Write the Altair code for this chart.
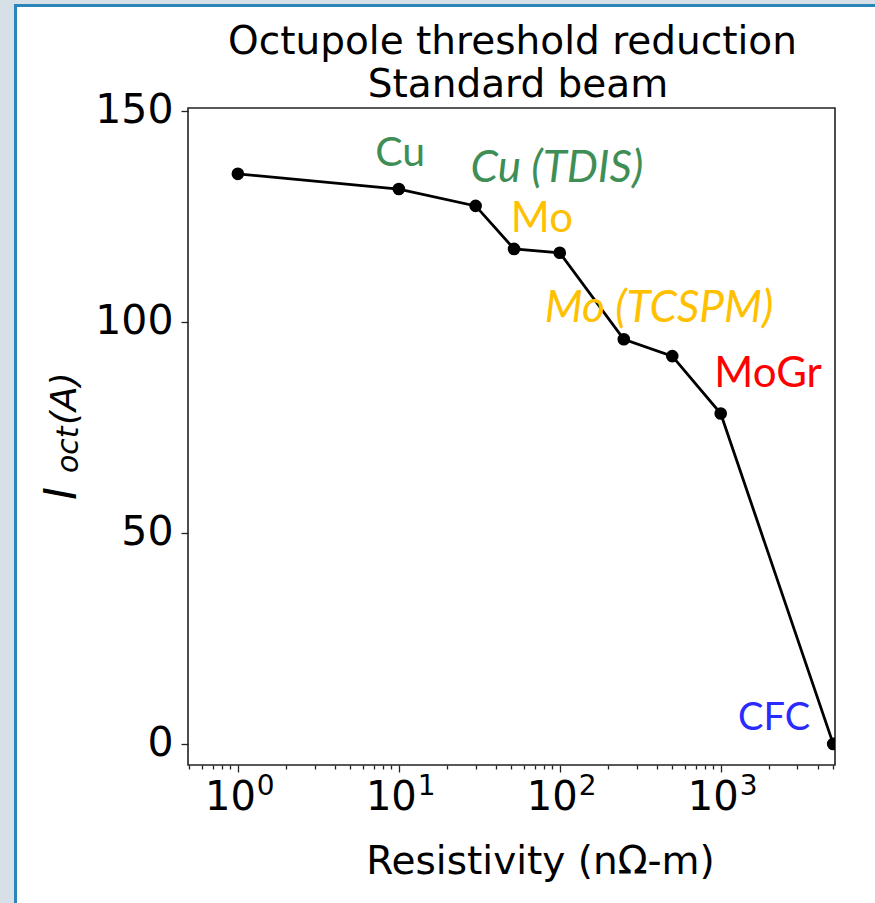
import altair as alt
import pandas as pd

# ---- data ----
resistivity = [1, 10, 30, 52, 100, 250, 500, 1000, 5000]          # nOhm-m
i_oct = [135.1, 131.5, 127.5, 117.3, 116.4, 95.9, 91.9, 78.3, 0.0]  # A

label_text = ["Cu", "Cu (TDIS)", "Mo", "Mo (TCSPM)", "MoGr", "CFC"]
label_x = [10.2, 96, 77.5, 414, 1968, 2144]
label_y = [137.0, 133.2, 121.3, 100.0, 84.5, 3.4]
label_italic = [False, True, False, True, False, False]

x_major = [1, 10, 100, 1000]
x_major_exp = ["0", "1", "2", "3"]
x_minor = [0.5, 0.6, 0.7, 0.8, 0.9, 2, 3, 4, 5, 6, 7, 8, 9,
           20, 30, 40, 50, 60, 70, 80, 90, 200, 300, 400, 500, 600, 700, 800, 900,
           2000, 3000, 4000, 5000]
y_ticks = [0, 50, 100, 150]

title_lines = ["Octupole threshold reduction", "Standard beam"]
x_title = "Resistivity (nΩ-m)"

# ---- styles ----
label_colors = {"Cu": "#3E8E55", "Cu (TDIS)": "#3E8E55", "Mo": "#FFC000",
                "Mo (TCSPM)": "#FFC000", "MoGr": "#FF0000", "CFC": "#2A2AFF"}
label_sizes = {"Cu": 41, "Cu (TDIS)": 44, "Mo": 42, "Mo (TCSPM)": 44,
               "MoGr": 42, "CFC": 38}

W, H = 647, 657
PAD_L, PAD_T, PAD_R, PAD_B = 188, 108, 40, 138

df = pd.DataFrame({"res": resistivity, "ioct": i_oct})
lab = pd.DataFrame({"text": label_text, "x": label_x, "y": label_y,
                    "italic": label_italic})
ticks_df = pd.DataFrame({"v": x_major, "exp": x_major_exp})
one = pd.DataFrame({"k": [0]})

x_scale = alt.Scale(type="log", domain=[0.49, 5130], nice=False)
y_scale = alt.Scale(domain=[-5, 150.7], nice=False, zero=False)

major_test = " || ".join(f"datum.value == {v}" for v in x_major)

x_axis = alt.Axis(
    values=sorted(x_major + x_minor), labels=False,
    tickSize={"condition": {"test": major_test, "value": 7}, "value": 4},
    tickColor="#222222", tickWidth=1.3, domain=False, grid=False,
    title=x_title, titleFont="DejaVu Sans", titleFontSize=39,
    titleFontWeight="normal", titleColor="black", titleX=352, titleY=108,
    titleAlign="center", titleBaseline="alphabetic", titleAnchor="start",
)
y_axis = alt.Axis(
    values=y_ticks, tickSize=7, tickColor="#222222", tickWidth=1.3,
    domain=False, grid=False, labelFont="DejaVu Sans", labelFontSize=41,
    labelColor="black", labelPadding=8, labelOverlap=False, labelFlush=False,
)

base = alt.Chart(df)
line = base.mark_line(color="black", strokeWidth=2.8, clip=True).encode(
    x=alt.X("res:Q", scale=x_scale, axis=x_axis),
    y=alt.Y("ioct:Q", scale=y_scale, axis=y_axis, title=None),
)
points = base.mark_point(filled=True, color="black", size=160, opacity=1,
                         clip=True).encode(
    x=alt.X("res:Q", scale=x_scale),
    y=alt.Y("ioct:Q", scale=y_scale),
)

# ---- x tick labels 10^n (drawn on the x scale) ----
tick_ten = alt.Chart(ticks_df).mark_text(
    text="10", font="DejaVu Sans", fontSize=40, align="right",
    baseline="alphabetic", dx=18, color="black"
).encode(x=alt.X("v:Q", scale=x_scale, title=x_title), y=alt.value(702))
tick_exp = alt.Chart(ticks_df).mark_text(
    font="DejaVu Sans", fontSize=28, align="left",
    baseline="alphabetic", dx=19, color="black"
).encode(x=alt.X("v:Q", scale=x_scale, title=x_title), y=alt.value(687),
         text="exp:N")

# ---- coloured annotations ----
def ann(t):
    row = lab[lab.text == t]
    italic = bool(row.italic.iloc[0])
    return alt.Chart(row).mark_text(
        font="Lato", fontSize=label_sizes[t], align="center",
        baseline="alphabetic", color=label_colors[t],
        fontStyle="italic" if italic else "normal"
    ).encode(
        x=alt.X("x:Q", scale=x_scale, title=x_title),
        y=alt.Y("y:Q", scale=y_scale),
        text="text:N",
    )

annotations = alt.layer(*[ann(t) for t in label_text])

# ---- decoration: slide frame around the figure ----
gray = "#D8E0E7"
blue = "#2A86B8"
strip_left = alt.Chart(one).mark_rect(color=gray).encode(
    x=alt.value(-PAD_L), x2=alt.value(15 - PAD_L),
    y=alt.value(-PAD_T), y2=alt.value(H + PAD_B + 10))
strip_top = alt.Chart(one).mark_rect(color=gray).encode(
    x=alt.value(-PAD_L), x2=alt.value(W + PAD_R + 10),
    y=alt.value(-PAD_T), y2=alt.value(5 - PAD_T))
border = alt.Chart(one).mark_rect(fillOpacity=0, stroke=blue, strokeWidth=3).encode(
    x=alt.value(15.5 - PAD_L), x2=alt.value(W + PAD_R + 40),
    y=alt.value(5.5 - PAD_T), y2=alt.value(H + PAD_B + 40))

# ---- y-axis title I_oct(A), rotated ----
def ytxt(t, xpx, ypx, size):
    return alt.Chart(one).mark_text(
        text=t, font="DejaVu Sans", fontStyle="italic", fontSize=size,
        angle=270, align="left", baseline="alphabetic", color="black"
    ).encode(x=alt.value(xpx - PAD_L), y=alt.value(ypx - PAD_T))

ytitle = ytxt("I", 76, 500, 44) + ytxt("oct", 78, 473, 30) + ytxt("(A)", 76, 425, 36)

# ---- chart title (two lines) ----
def ttxt(t, xpx, ypx):
    return alt.Chart(one).mark_text(
        text=t, font="DejaVu Sans", fontSize=39, align="center",
        baseline="alphabetic", color="black"
    ).encode(x=alt.value(xpx - PAD_L), y=alt.value(ypx - PAD_T))

title = ttxt(title_lines[0], 512.5, 54) + ttxt(title_lines[1], 518, 97)

chart = alt.layer(
    strip_left, strip_top, border, line, points, tick_ten, tick_exp,
    annotations, ytitle, title
).properties(
    width=W, height=H,
    autosize=alt.AutoSizeParams(type="none"),
    padding={"left": PAD_L, "top": PAD_T, "right": PAD_R, "bottom": PAD_B},
    background="white",
).configure_view(stroke="#222222", strokeWidth=1.6)

chart.save("out.html", embed_options={"renderer": "svg", "actions": False})
